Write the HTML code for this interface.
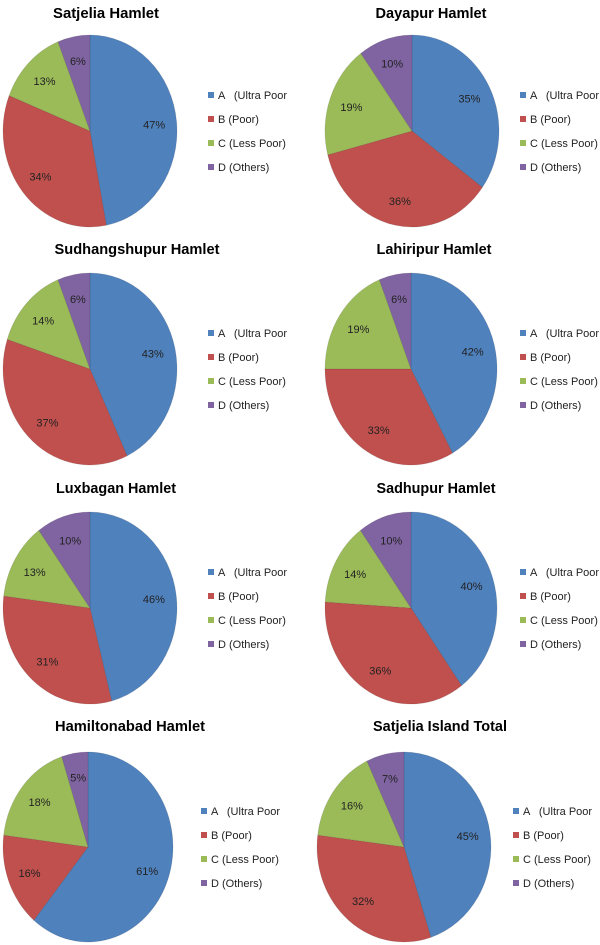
<!DOCTYPE html>
<html><head><meta charset="utf-8"><style>
html,body{margin:0;padding:0;background:#fff;}
svg{display:block;font-family:"Liberation Sans",Arial,sans-serif;}
</style></head><body>
<svg id="c" width="600" height="945" viewBox="0 0 600 945"></svg>
<script>
const titles=["Satjelia Hamlet","Dayapur Hamlet","Sudhangshupur Hamlet","Lahiripur Hamlet","Luxbagan Hamlet","Sadhupur Hamlet","Hamiltonabad Hamlet","Satjelia Island Total"];
const categories=["A   (Ultra Poor","B (Poor)","C (Less Poor)","D (Others)"];
const valuesA=[47,35,43,42,46,40,61,45];
const valuesB=[34,36,37,33,31,36,16,32];
const valuesC=[13,19,14,19,13,14,18,16];
const valuesD=[6,10,6,6,10,10,5,7];
const colors=["#4F81BD","#C0504D","#9BBB59","#8064A2"];
const layout=[
 {cx:90,cy:131,rx:87,ry:96,tx:106,ty:18,tw:106,lx:208},
 {cx:412,cy:131,rx:87,ry:96,tx:431,ty:18,tw:111,lx:520},
 {cx:90,cy:369,rx:87,ry:96,tx:137,ty:254,tw:165,lx:208},
 {cx:411,cy:369,rx:86,ry:96,tx:434,ty:254,tw:115,lx:520},
 {cx:90,cy:608,rx:87,ry:96,tx:116,ty:493,tw:120,lx:208},
 {cx:411,cy:608,rx:86,ry:96,tx:436,ty:493,tw:119,lx:520},
 {cx:88,cy:847,rx:85,ry:95,tx:130,ty:731,tw:150,lx:201},
 {cx:404,cy:847,rx:87,ry:95,tx:440,ty:731,tw:134,lx:513}];
const svg=document.getElementById('c');
const NS='http://www.w3.org/2000/svg';
function mk(t,a,p){const e=document.createElementNS(NS,t);for(const k in a)e.setAttribute(k,a[k]);(p||svg).appendChild(e);return e;}
const slug=s=>s.toLowerCase().replace(/[^a-z0-9]+/g,'-').replace(/^-|-$/g,'');
titles.forEach((title,i)=>{
 const L=layout[i];
 const g=mk('g',{});
 
 
 const t=mk('text',{x:L.tx,y:L.ty,'text-anchor':'middle','font-size':'15','font-weight':'bold',fill:'#000',textLength:L.tw,lengthAdjust:'spacingAndGlyphs'},g);
 t.textContent=title;
 
 
 const vals=[valuesA[i],valuesB[i],valuesC[i],valuesD[i]];
 const tot=vals.reduce((a,b)=>a+b,0);
 let a0=0;
 vals.forEach((v,j)=>{
  const a1=a0+v/tot*2*Math.PI;
  const p=a=>[L.cx+L.rx*Math.sin(a),L.cy-L.ry*Math.cos(a)];
  const s=p(a0),e=p(a1);
  const large=(a1-a0)>Math.PI?1:0;
  const path=mk('path',{d:`M${L.cx},${L.cy} L${s[0].toFixed(2)},${s[1].toFixed(2)} A${L.rx},${L.ry} 0 ${large} 1 ${e[0].toFixed(2)},${e[1].toFixed(2)} Z`,fill:colors[j],stroke:'rgba(0,0,0,0.12)','stroke-width':'0.8'},g);
  
  
  const am=(a0+a1)/2;
  const lbl=mk('text',{x:(L.cx+L.rx*0.74*Math.sin(am)).toFixed(1),y:(L.cy-L.ry*0.74*Math.cos(am)+4).toFixed(1),'text-anchor':'middle','font-size':'11',fill:'#222'},g);
  lbl.textContent=v+'%';
  
  
  a0=a1;
 });
 categories.forEach((c,j)=>{
  const y=L.cy-36+24*j;
  const lg=mk('g',{},g);
  
  
  mk('rect',{x:L.lx,y:y-3,width:6,height:6,fill:colors[j]},lg);
  const lt=mk('text',{x:L.lx+10,y:y+4,'font-size':'11',fill:'#222'},lg);
  lt.setAttribute('style','white-space:pre');
  lt.textContent=c;
 });
});
</script>
</body></html>
